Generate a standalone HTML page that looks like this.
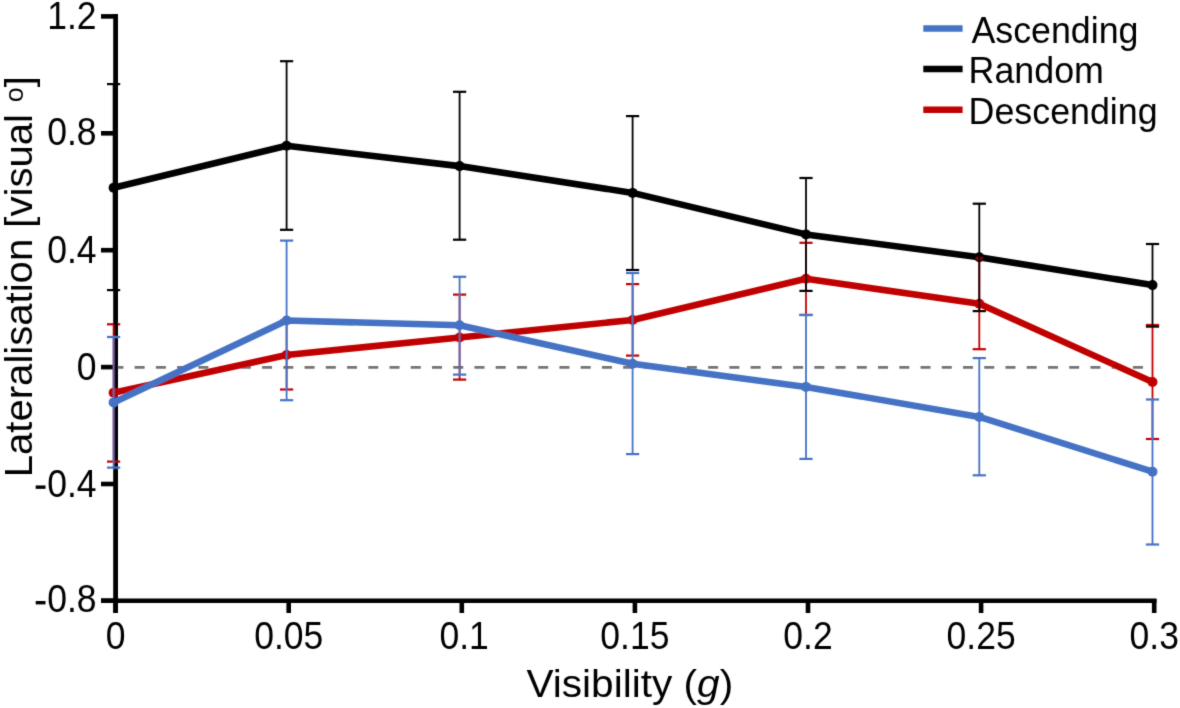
<!DOCTYPE html>
<html><head><meta charset="utf-8"><style>
html,body{margin:0;padding:0;background:#fff;width:1180px;height:708px;overflow:hidden}
svg{display:block}
text{font-family:"Liberation Sans",sans-serif;fill:#000}
</style></head><body>
<svg width="1180" height="708" viewBox="0 0 1180 708">
<defs><filter id="bl" filterUnits="userSpaceOnUse" x="0" y="0" width="1180" height="708"><feConvolveMatrix order="3" kernelMatrix="1 6 1 6 36 6 1 6 1" divisor="64" edgeMode="none" preserveAlpha="false"/></filter></defs>
<rect width="1180" height="708" fill="#fff"/>
<g filter="url(#bl)">
<line x1="113.4" y1="367.3" x2="1153" y2="367.3" stroke="#747474" stroke-width="2.8" stroke-dasharray="10 11.24"/><line x1="107.0" y1="324.3" x2="120.2" y2="324.3" stroke="#c00000" stroke-width="2.2"/><line x1="115.6" y1="14.1" x2="115.6" y2="613" stroke="#000" stroke-width="4.8"/><line x1="101" y1="600.7" x2="1156.5" y2="600.7" stroke="#000" stroke-width="4.6"/><line x1="101" y1="16.4" x2="117" y2="16.4" stroke="#000" stroke-width="4.6"/><line x1="101" y1="133.3" x2="117" y2="133.3" stroke="#000" stroke-width="4.6"/><line x1="101" y1="250.2" x2="117" y2="250.2" stroke="#000" stroke-width="4.6"/><line x1="101" y1="367.1" x2="117" y2="367.1" stroke="#000" stroke-width="4.6"/><line x1="101" y1="484.0" x2="117" y2="484.0" stroke="#000" stroke-width="4.6"/><line x1="101" y1="600.7" x2="117" y2="600.7" stroke="#000" stroke-width="4.6"/><line x1="115.6" y1="599" x2="115.6" y2="613" stroke="#000" stroke-width="4.6"/><line x1="288.7" y1="599" x2="288.7" y2="613" stroke="#000" stroke-width="4.6"/><line x1="461.8" y1="599" x2="461.8" y2="613" stroke="#000" stroke-width="4.6"/><line x1="634.9" y1="599" x2="634.9" y2="613" stroke="#000" stroke-width="4.6"/><line x1="808.0" y1="599" x2="808.0" y2="613" stroke="#000" stroke-width="4.6"/><line x1="981.1" y1="599" x2="981.1" y2="613" stroke="#000" stroke-width="4.6"/><line x1="1154.2" y1="599" x2="1154.2" y2="613" stroke="#000" stroke-width="4.6"/><polyline points="113.6,392.7 286.6,355.0 459.6,337.5 632.6,320.0 806.0,278.8 979.3,303.7 1152.5,382.0" fill="none" stroke="#c00000" stroke-width="6.6" stroke-linejoin="round"/><circle cx="113.6" cy="392.7" r="5.0" fill="#c00000"/><circle cx="286.6" cy="355.0" r="5.0" fill="#c00000"/><circle cx="459.6" cy="337.5" r="5.0" fill="#c00000"/><circle cx="632.6" cy="320.0" r="5.0" fill="#c00000"/><circle cx="806.0" cy="278.8" r="5.0" fill="#c00000"/><circle cx="979.3" cy="303.7" r="5.0" fill="#c00000"/><circle cx="1152.5" cy="382.0" r="5.0" fill="#c00000"/><polyline points="113.6,187.8 286.6,145.8 459.6,166.1 632.6,192.9 806.0,234.4 979.3,257.3 1152.5,285.1" fill="none" stroke="#000" stroke-width="6.6" stroke-linejoin="round"/><circle cx="113.6" cy="187.8" r="5.0" fill="#000"/><circle cx="286.6" cy="145.8" r="5.0" fill="#000"/><circle cx="459.6" cy="166.1" r="5.0" fill="#000"/><circle cx="632.6" cy="192.9" r="5.0" fill="#000"/><circle cx="806.0" cy="234.4" r="5.0" fill="#000"/><circle cx="979.3" cy="257.3" r="5.0" fill="#000"/><circle cx="1152.5" cy="285.1" r="5.0" fill="#000"/><line x1="113.6" y1="324.3" x2="113.6" y2="461.6" stroke="#c00000" stroke-width="1.8"/><line x1="107.0" y1="461.6" x2="120.2" y2="461.6" stroke="#c00000" stroke-width="2.2"/><line x1="286.6" y1="320.5" x2="286.6" y2="389.5" stroke="#c00000" stroke-width="1.8"/><line x1="280.0" y1="320.5" x2="293.2" y2="320.5" stroke="#c00000" stroke-width="2.2"/><line x1="280.0" y1="389.5" x2="293.2" y2="389.5" stroke="#c00000" stroke-width="2.2"/><line x1="459.6" y1="294.6" x2="459.6" y2="379.6" stroke="#c00000" stroke-width="1.8"/><line x1="453.0" y1="294.6" x2="466.2" y2="294.6" stroke="#c00000" stroke-width="2.2"/><line x1="453.0" y1="379.6" x2="466.2" y2="379.6" stroke="#c00000" stroke-width="2.2"/><line x1="632.6" y1="284.1" x2="632.6" y2="355.6" stroke="#c00000" stroke-width="1.8"/><line x1="626.0" y1="284.1" x2="639.2" y2="284.1" stroke="#c00000" stroke-width="2.2"/><line x1="626.0" y1="355.6" x2="639.2" y2="355.6" stroke="#c00000" stroke-width="2.2"/><line x1="806.0" y1="242.8" x2="806.0" y2="314.8" stroke="#c00000" stroke-width="1.8"/><line x1="799.4" y1="242.8" x2="812.6" y2="242.8" stroke="#c00000" stroke-width="2.2"/><line x1="799.4" y1="314.8" x2="812.6" y2="314.8" stroke="#c00000" stroke-width="2.2"/><line x1="979.3" y1="258.2" x2="979.3" y2="349.2" stroke="#c00000" stroke-width="1.8"/><line x1="972.7" y1="349.2" x2="985.9" y2="349.2" stroke="#c00000" stroke-width="2.2"/><line x1="1152.5" y1="325.0" x2="1152.5" y2="439.0" stroke="#c00000" stroke-width="1.8"/><line x1="1145.9" y1="325.0" x2="1159.1" y2="325.0" stroke="#c00000" stroke-width="2.2"/><line x1="1145.9" y1="439.0" x2="1159.1" y2="439.0" stroke="#c00000" stroke-width="2.2"/><rect x="975.9" y="257.0" width="6.8" height="3.2" fill="#8a0000"/><line x1="113.6" y1="84.1" x2="113.6" y2="290.1" stroke="#000" stroke-width="1.8"/><line x1="107.0" y1="84.1" x2="120.2" y2="84.1" stroke="#000" stroke-width="2.2"/><line x1="107.0" y1="290.1" x2="120.2" y2="290.1" stroke="#000" stroke-width="2.2"/><line x1="286.6" y1="61.2" x2="286.6" y2="229.8" stroke="#000" stroke-width="1.8"/><line x1="280.0" y1="61.2" x2="293.2" y2="61.2" stroke="#000" stroke-width="2.2"/><line x1="280.0" y1="229.8" x2="293.2" y2="229.8" stroke="#000" stroke-width="2.2"/><line x1="459.6" y1="91.8" x2="459.6" y2="239.7" stroke="#000" stroke-width="1.8"/><line x1="453.0" y1="91.8" x2="466.2" y2="91.8" stroke="#000" stroke-width="2.2"/><line x1="453.0" y1="239.7" x2="466.2" y2="239.7" stroke="#000" stroke-width="2.2"/><line x1="632.6" y1="116.1" x2="632.6" y2="270.0" stroke="#000" stroke-width="1.8"/><line x1="626.0" y1="116.1" x2="639.2" y2="116.1" stroke="#000" stroke-width="2.2"/><line x1="626.0" y1="270.0" x2="639.2" y2="270.0" stroke="#000" stroke-width="2.2"/><line x1="806.0" y1="178.0" x2="806.0" y2="290.9" stroke="#000" stroke-width="1.8"/><line x1="799.4" y1="178.0" x2="812.6" y2="178.0" stroke="#000" stroke-width="2.2"/><line x1="799.4" y1="290.9" x2="812.6" y2="290.9" stroke="#000" stroke-width="2.2"/><line x1="979.3" y1="203.7" x2="979.3" y2="311.1" stroke="#000" stroke-width="1.8"/><line x1="972.7" y1="203.7" x2="985.9" y2="203.7" stroke="#000" stroke-width="2.2"/><line x1="972.7" y1="311.1" x2="985.9" y2="311.1" stroke="#000" stroke-width="2.2"/><line x1="1152.5" y1="244.0" x2="1152.5" y2="326.6" stroke="#000" stroke-width="1.8"/><line x1="1145.9" y1="244.0" x2="1159.1" y2="244.0" stroke="#000" stroke-width="2.2"/><line x1="1145.9" y1="326.6" x2="1159.1" y2="326.6" stroke="#000" stroke-width="2.2"/><polyline points="113.6,402.4 286.6,320.5 459.6,325.2 632.6,363.8 806.0,386.9 979.3,416.9 1152.5,471.7" fill="none" stroke="#4472c4" stroke-width="6.6" stroke-linejoin="round"/><circle cx="113.6" cy="402.4" r="5.0" fill="#4472c4"/><circle cx="286.6" cy="320.5" r="5.0" fill="#4472c4"/><circle cx="459.6" cy="325.2" r="5.0" fill="#4472c4"/><circle cx="632.6" cy="363.8" r="5.0" fill="#4472c4"/><circle cx="806.0" cy="386.9" r="5.0" fill="#4472c4"/><circle cx="979.3" cy="416.9" r="5.0" fill="#4472c4"/><circle cx="1152.5" cy="471.7" r="5.0" fill="#4472c4"/><line x1="113.6" y1="337.0" x2="113.6" y2="467.6" stroke="#4472c4" stroke-width="1.8"/><line x1="107.0" y1="337.0" x2="120.2" y2="337.0" stroke="#4472c4" stroke-width="2.2"/><line x1="107.0" y1="467.6" x2="120.2" y2="467.6" stroke="#4472c4" stroke-width="2.2"/><line x1="286.6" y1="240.6" x2="286.6" y2="400.2" stroke="#4472c4" stroke-width="1.8"/><line x1="280.0" y1="240.6" x2="293.2" y2="240.6" stroke="#4472c4" stroke-width="2.2"/><line x1="280.0" y1="400.2" x2="293.2" y2="400.2" stroke="#4472c4" stroke-width="2.2"/><line x1="459.6" y1="276.8" x2="459.6" y2="374.6" stroke="#4472c4" stroke-width="1.8"/><line x1="453.0" y1="276.8" x2="466.2" y2="276.8" stroke="#4472c4" stroke-width="2.2"/><line x1="453.0" y1="374.6" x2="466.2" y2="374.6" stroke="#4472c4" stroke-width="2.2"/><line x1="632.6" y1="273.0" x2="632.6" y2="454.1" stroke="#4472c4" stroke-width="1.8"/><line x1="626.0" y1="273.0" x2="639.2" y2="273.0" stroke="#4472c4" stroke-width="2.2"/><line x1="626.0" y1="454.1" x2="639.2" y2="454.1" stroke="#4472c4" stroke-width="2.2"/><line x1="806.0" y1="315.1" x2="806.0" y2="458.9" stroke="#4472c4" stroke-width="1.8"/><line x1="799.4" y1="315.1" x2="812.6" y2="315.1" stroke="#4472c4" stroke-width="2.2"/><line x1="799.4" y1="458.9" x2="812.6" y2="458.9" stroke="#4472c4" stroke-width="2.2"/><line x1="979.3" y1="358.1" x2="979.3" y2="475.3" stroke="#4472c4" stroke-width="1.8"/><line x1="972.7" y1="358.1" x2="985.9" y2="358.1" stroke="#4472c4" stroke-width="2.2"/><line x1="972.7" y1="475.3" x2="985.9" y2="475.3" stroke="#4472c4" stroke-width="2.2"/><line x1="1152.5" y1="399.5" x2="1152.5" y2="544.5" stroke="#4472c4" stroke-width="1.8"/><line x1="1145.9" y1="399.5" x2="1159.1" y2="399.5" stroke="#4472c4" stroke-width="2.2"/><line x1="1145.9" y1="544.5" x2="1159.1" y2="544.5" stroke="#4472c4" stroke-width="2.2"/><line x1="923.3" y1="28.4" x2="962.6" y2="28.4" stroke="#4472c4" stroke-width="6.5"/><line x1="923.3" y1="68.9" x2="962.6" y2="68.9" stroke="#000" stroke-width="6.5"/><line x1="923.3" y1="109.8" x2="962.6" y2="109.8" stroke="#c00000" stroke-width="6.5"/>
<g transform="translate(96.60,29.25) scale(1,1.07)"><text x="0" y="0" font-size="35.5" text-anchor="end" >1.2</text></g><g transform="translate(96.60,145.45) scale(1,1.07)"><text x="0" y="0" font-size="35.5" text-anchor="end" >0.8</text></g><g transform="translate(96.60,263.25) scale(1,1.07)"><text x="0" y="0" font-size="35.5" text-anchor="end" >0.4</text></g><g transform="translate(96.60,380.15) scale(1,1.07)"><text x="0" y="0" font-size="35.5" text-anchor="end" >0</text></g><g transform="translate(96.60,496.65) scale(1,1.07)"><text x="0" y="0" font-size="35.5" text-anchor="end" >0.4</text></g><rect x="35.7" y="485.45" width="9.8" height="3.4" fill="#000"/><g transform="translate(96.60,611.75) scale(1,1.07)"><text x="0" y="0" font-size="35.5" text-anchor="end" >0.8</text></g><rect x="35.7" y="601.00" width="9.8" height="3.4" fill="#000"/><g transform="translate(115.60,649.10) scale(1,1.07)"><text x="0" y="0" font-size="35.5" text-anchor="middle" >0</text></g><g transform="translate(288.70,649.10) scale(1,1.07)"><text x="0" y="0" font-size="35.5" text-anchor="middle" >0.05</text></g><g transform="translate(464.10,649.10) scale(1,1.07)"><text x="0" y="0" font-size="35.5" text-anchor="middle" >0.1</text></g><g transform="translate(634.90,649.10) scale(1,1.07)"><text x="0" y="0" font-size="35.5" text-anchor="middle" >0.15</text></g><g transform="translate(808.00,649.10) scale(1,1.07)"><text x="0" y="0" font-size="35.5" text-anchor="middle" >0.2</text></g><g transform="translate(981.10,649.10) scale(1,1.07)"><text x="0" y="0" font-size="35.5" text-anchor="middle" >0.25</text></g><g transform="translate(1154.20,649.10) scale(1,1.07)"><text x="0" y="0" font-size="35.5" text-anchor="middle" >0.3</text></g><g transform="translate(971.40,42.50) scale(1,1.03)"><text x="0" y="0" font-size="35.8" text-anchor="start" >Ascending</text></g><g transform="translate(968.60,83.20) scale(1,1.03)"><text x="0" y="0" font-size="35.8" text-anchor="start" >Random</text></g><g transform="translate(968.60,123.60) scale(1,1.03)"><text x="0" y="0" font-size="35.8" text-anchor="start" >Descending</text></g><g transform="translate(629.80,696.60) scale(1,0.975)"><text x="0" y="0" font-size="40.6" text-anchor="middle" >Visibility (<tspan font-style="italic">g</tspan>)</text></g><g transform="translate(31.8,477.3) rotate(-90) scale(1,0.97)"><text x="0" y="0" font-size="40.1">Lateralisation [visual <tspan font-size="27" dx="0.5" dy="-8.8">o</tspan><tspan dy="8.8">]</tspan></text></g>
</g>
</svg>
</body></html>
